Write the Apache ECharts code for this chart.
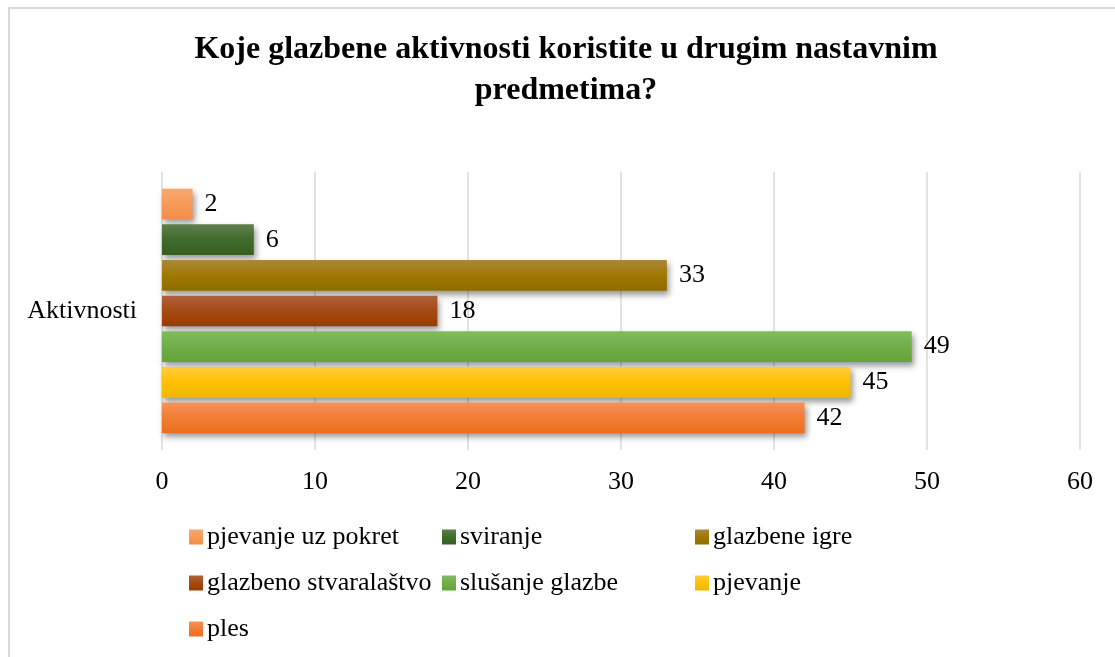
<!DOCTYPE html>
<html>
<head>
<meta charset="utf-8">
<script src="https://cdn.jsdelivr.net/npm/echarts@6/dist/echarts.min.js"></script>
<style>html,body{margin:0;padding:0;background:#fff;}#c{width:1115px;height:657px;}</style>
</head>
<body>
<div id="c"></div>
<script>
const titleText = 'Koje glazbene aktivnosti koristite u drugim nastavnim\npredmetima?';
const categories = ['Aktivnosti'];
const seriesNames = ['pjevanje uz pokret', 'sviranje', 'glazbene igre', 'glazbeno stvaralaštvo', 'slušanje glazbe', 'pjevanje', 'ples'];
const seriesValues = [2, 6, 33, 18, 49, 45, 42];
const xTicks = [0, 10, 20, 30, 40, 50, 60];
const colorTop = ['#F9A86E', '#5F7F4F', '#A9883C', '#B0603E', '#82BB5E', '#FFCB3F', '#F5925A'];
const colorMid = ['#F79A58', '#406B2B', '#A07800', '#A54A12', '#70AE48', '#FFC000', '#F27C33'];
const colorBot = ['#F48D48', '#365E22', '#8F6C00', '#983C00', '#63A437', '#EFB700', '#EB6E1E'];
const legendCols = [[0, 3, 6], [1, 4], [2, 5]];

const font = "'Liberation Serif', 'Times New Roman', serif";
const chart = echarts.init(document.getElementById('c'));

function grad(i) {
  return new echarts.graphic.LinearGradient(0, 0, 0, 1, [
    { offset: 0, color: colorTop[i] },
    { offset: 0.5, color: colorMid[i] },
    { offset: 1, color: colorBot[i] }
  ]);
}

const colLeft = [189, 442, 695];
const legends = legendCols.map((idx, c) => ({
  orient: 'vertical',
  left: colLeft[c],
  top: 524,
  padding: 0,
  itemGap: 20,
  itemWidth: 14,
  itemHeight: 15,
  icon: 'rect',
  selectedMode: false,
  data: idx.map(i => seriesNames[i]),
  textStyle: { fontFamily: font, fontSize: 26, lineHeight: 26, color: '#000', padding: [0, 0, 0, -1] }
}));

const option = {
  animation: false,
  backgroundColor: '#fff',
  title: {
    text: titleText,
    left: 566,
    top: 29,
    padding: 0,
    textAlign: 'center',
    textStyle: { fontFamily: font, fontSize: 32, fontWeight: 'bold', lineHeight: 41, color: '#000' }
  },
  graphic: [{
    type: 'rect',
    shape: { x: 9, y: 8, width: 1200, height: 700 },
    style: { fill: 'none', stroke: '#d9d9d9', lineWidth: 2 },
    silent: true
  }],
  legend: legends,
  grid: { left: 162, right: 35, top: 172, bottom: 207, containLabel: false },
  xAxis: {
    type: 'value',
    min: xTicks[0],
    max: xTicks[xTicks.length - 1],
    interval: 10,
    axisLine: { show: false },
    axisTick: { show: false },
    splitLine: { lineStyle: { color: '#d9d9d9', width: 1.5 } },
    axisLabel: { fontFamily: font, fontSize: 26, color: '#000', margin: 19 }
  },
  yAxis: {
    type: 'category',
    data: categories,
    axisLine: { show: false },
    axisTick: { show: false },
    axisLabel: { fontFamily: font, fontSize: 26, color: '#000', margin: 25 }
  },
  series: seriesNames.map((name, i) => ({
    name: name,
    type: 'bar',
    data: [seriesValues[i]],
    barGap: '16%',
    barCategoryGap: '12%',
    itemStyle: {
      color: grad(i),
      shadowColor: 'rgba(0,0,0,0.4)',
      shadowBlur: 6,
      shadowOffsetX: 2,
      shadowOffsetY: 4
    },
    label: {
      show: true,
      position: 'right',
      distance: 12,
      fontFamily: font,
      fontSize: 26,
      color: '#000',
      padding: [4, 0, 0, 0]
    }
  }))
};
chart.setOption(option);
</script>
</body>
</html>
